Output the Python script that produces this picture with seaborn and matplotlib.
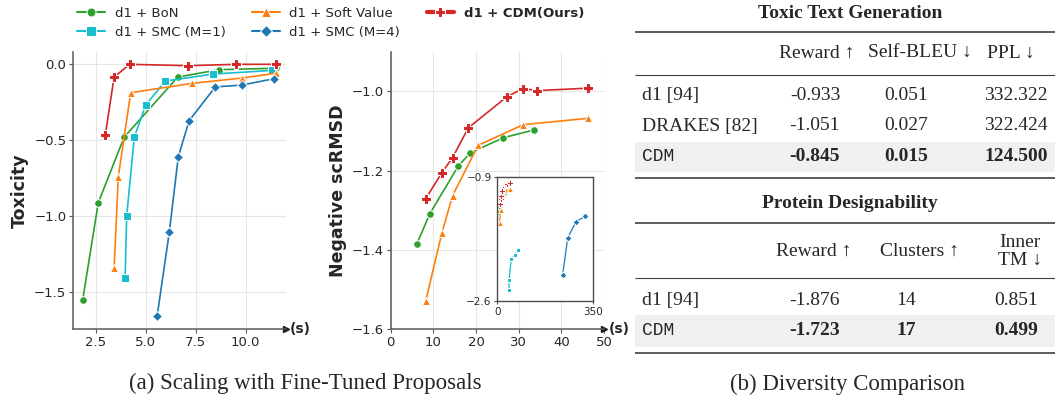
import matplotlib

matplotlib.use("Agg")
import matplotlib.pyplot as plt
import numpy as np
import pandas as pd
import seaborn as sns
from matplotlib.lines import Line2D
from matplotlib.patches import Rectangle

# ---- toxicity task (left panel) ----
tox_bon_x = [1.85, 2.63, 3.92, 6.6, 8.68, 11.5]
tox_bon_y = [-1.549, -0.91, -0.48, -0.084, -0.035, -0.026]
tox_smc1_x = [3.97, 4.05, 4.43, 5.0, 5.98, 8.37, 11.33]
tox_smc1_y = [-1.404, -0.996, -0.48, -0.268, -0.11, -0.064, -0.04]
tox_soft_x = [3.42, 3.63, 4.25, 7.33, 9.83, 11.5]
tox_soft_y = [-1.34, -0.74, -0.187, -0.125, -0.09, -0.059]
tox_smc4_x = [5.57, 6.18, 6.63, 7.17, 8.48, 9.83, 11.4]
tox_smc4_y = [-1.658, -1.105, -0.608, -0.371, -0.149, -0.136, -0.095]
tox_cdm_x = [2.98, 3.42, 4.2, 7.13, 9.5, 11.5]
tox_cdm_y = [-0.465, -0.084, 0.0, -0.009, 0.0, 0.0]

# ---- protein task (middle panel + inset) ----
pro_bon_x = [6.16, 9.2, 15.8, 18.66, 26.4, 33.7]
pro_bon_y = [-1.384, -1.308, -1.189, -1.155, -1.117, -1.097]
pro_soft_x = [8.2, 12.0, 14.5, 20.5, 31.1, 46.2]
pro_soft_y = [-1.529, -1.357, -1.263, -1.136, -1.084, -1.068]
pro_cdm_x = [8.2, 12.0, 14.5, 18.2, 27.3, 31.1, 34.4, 46.2]
pro_cdm_y = [-1.271, -1.205, -1.167, -1.092, -1.013, -0.993, -0.998, -0.992]
pro_smc1_x = [42.8, 42.8, 51.0, 63.6, 75.7]
pro_smc1_y = [-2.446, -2.31, -2.027, -1.964, -1.896]
pro_smc4_x = [239, 257.5, 288, 321]
pro_smc4_y = [-2.237, -1.736, -1.513, -1.441]

# ---- tables ----
tox_cols = ["Reward \u2191", "Self-BLEU \u2193", "PPL \u2193"]
tox_rows = ["d1 [94]", "DRAKES [82]", "CDM"]
tox_vals = [["-0.933", "0.051", "332.322"],
            ["-1.051", "0.027", "322.424"],
            ["-0.845", "0.015", "124.500"]]
pro_cols = ["Reward \u2191", "Clusters \u2191", "Inner\nTM \u2193"]
pro_rows = ["d1 [94]", "CDM"]
pro_vals = [["-1.876", "14", "0.851"],
            ["-1.723", "17", "0.499"]]

styles = {
    "d1 + BoN": dict(color="#2ca02c", marker="o", ms=5.5),
    "d1 + SMC (M=1)": dict(color="#17becf", marker="s", ms=5.5),
    "d1 + Soft Value": dict(color="#ff7f0e", marker="^", ms=6),
    "d1 + SMC (M=4)": dict(color="#1f77b4", marker="D", ms=5.5),
    "d1 + CDM(Ours)": dict(color="#d62728", marker="P", ms=6.5),
}

sns.set_theme(style="whitegrid")
plt.rcParams["font.family"] = ["DejaVu Sans"]

W, H = 1055, 398
fig = plt.figure(figsize=(W / 100, H / 100), dpi=100)


def px_box(left, top, right, bottom):
    return [left / W, 1 - bottom / H, (right - left) / W, (bottom - top) / H]


def draw(ax, x, y, name, scale=1.0, lw=1.2):
    st = styles[name]
    sns.lineplot(x=x, y=y, ax=ax, color=st["color"], marker=st["marker"],
                 markersize=st["ms"] * scale, linewidth=lw, estimator=None,
                 sort=False, legend=False)


def style_axis(ax, ylabel, pad):
    for s in ["top", "right"]:
        ax.spines[s].set_visible(False)
    for s in ["left", "bottom"]:
        ax.spines[s].set_color("0.35")
        ax.spines[s].set_linewidth(1.1)
    ax.grid(color="0.9", linewidth=0.8)
    ax.tick_params(axis="both", labelsize=9.5, length=3, width=0.8,
                   color="0.35", pad=2, left=True, bottom=True)
    ax.set_xlabel("")
    ax.set_ylabel(ylabel, fontsize=12.5, fontweight="bold", labelpad=pad)
    ax.plot(1, 0, ">", color="0.1", markersize=5, transform=ax.transAxes,
            clip_on=False)
    ax.text(1.02, 0, "(s)", transform=ax.transAxes, ha="left", va="center",
            fontsize=10, fontweight="bold")


# left panel
ax1 = fig.add_axes(px_box(73.3, 51.7, 285.7, 329.3))
draw(ax1, tox_bon_x, tox_bon_y, "d1 + BoN")
draw(ax1, tox_smc1_x, tox_smc1_y, "d1 + SMC (M=1)")
draw(ax1, tox_soft_x, tox_soft_y, "d1 + Soft Value")
draw(ax1, tox_smc4_x, tox_smc4_y, "d1 + SMC (M=4)")
draw(ax1, tox_cdm_x, tox_cdm_y, "d1 + CDM(Ours)")
ax1.set_xlim(1.38, 12.0)
ax1.set_ylim(-1.743, 0.083)
ax1.set_xticks([2.5, 5.0, 7.5, 10.0])
ax1.set_yticks([0.0, -0.5, -1.0, -1.5])
style_axis(ax1, "Toxicity", 4)

# middle panel
ax2 = fig.add_axes(px_box(390.7, 51.7, 604, 329.3))
draw(ax2, pro_bon_x, pro_bon_y, "d1 + BoN")
draw(ax2, pro_soft_x, pro_soft_y, "d1 + Soft Value")
draw(ax2, pro_cdm_x, pro_cdm_y, "d1 + CDM(Ours)")
ax2.set_xlim(0, 50)
ax2.set_ylim(-1.6, -0.9)
ax2.set_xticks([0, 10, 20, 30, 40, 50])
ax2.set_yticks([-1.0, -1.2, -1.4, -1.6])
style_axis(ax2, "Negative scRMSD", 3)

# inset
axi = fig.add_axes(px_box(497.3, 176.7, 593, 301.3))
draw(axi, pro_bon_x, pro_bon_y, "d1 + BoN", 0.65, 0.9)
draw(axi, pro_soft_x, pro_soft_y, "d1 + Soft Value", 0.65, 0.9)
draw(axi, pro_cdm_x, pro_cdm_y, "d1 + CDM(Ours)", 0.65, 0.9)
draw(axi, pro_smc1_x, pro_smc1_y, "d1 + SMC (M=1)", 0.65, 0.9)
draw(axi, pro_smc4_x, pro_smc4_y, "d1 + SMC (M=4)", 0.65, 0.9)
axi.set_xlim(0, 350)
axi.set_ylim(-2.6, -0.9)
axi.set_xticks([0, 350])
axi.set_yticks([-0.9, -2.6])
axi.grid(False)
axi.set_facecolor("white")
for s in axi.spines.values():
    s.set_color("0.3")
    s.set_linewidth(1.0)
axi.tick_params(labelsize=7.5, length=2.5, width=0.8, color="0.3", pad=1.5,
                left=True, bottom=True)
axi.set_xlabel("")
axi.set_ylabel("")

# legend
handles = []
for name, st in styles.items():
    lw = 3 if "CDM" in name else 1.5
    handles.append(Line2D([], [], color=st["color"], marker=st["marker"],
                          markersize=st["ms"] + 1, linewidth=lw, mec="w",
                          mew=0.75, label=name))
leg = fig.legend(handles=handles, ncol=3, loc="upper left",
                 bbox_to_anchor=(77 / W, 1 - 7 / H), frameon=False,
                 fontsize=9.5, handlelength=2.1, handletextpad=0.75,
                 columnspacing=2.0, labelspacing=0.45, borderpad=0,
                 borderaxespad=0)
for t in leg.get_texts():
    if "CDM" in t.get_text():
        t.set_fontweight("bold")

# tables drawn on a pixel-coordinate overlay
tab = fig.add_axes([0, 0, 1, 1], zorder=-1)
tab.set_xlim(0, W)
tab.set_ylim(H, 0)
tab.axis("off")

serif = ["Liberation Serif", "DejaVu Serif"]
mono = ["Liberation Mono", "DejaVu Sans Mono"]
rule_c = "0.25"
x0, x1 = 635, 1055
col_x = [815, 906, 1016]
head_x = [817, 920, 1011]


def rule(y, lw):
    tab.plot([x0, x1], [y, y], color=rule_c, linewidth=lw,
             solid_capstyle="butt")


def table(title, title_y, top, mid, bottom, head_y, cols, hx, rows, row_y,
          vals, band):
    tab.text((x0 + x1) / 2 + 5, title_y, title, ha="center", va="center",
             family=serif, fontsize=14, fontweight="bold")
    rule(top, 1.2)
    rule(mid, 0.8)
    rule(bottom, 1.2)
    tab.add_patch(Rectangle((x0, band[0]), x1 - x0, band[1] - band[0],
                            color="#f0f0f0", zorder=0, linewidth=0))
    for c, x, hy in zip(cols, hx, head_y):
        tab.text(x, hy, c, ha="center", va="center", family=serif,
                 fontsize=14, linespacing=1.05)
    for i, (r, y) in enumerate(zip(rows, row_y)):
        best = r == "CDM"
        tab.text(642, y, r, ha="left", va="center",
                 family=mono if best else serif, fontsize=13 if best else 14)
        for v, x in zip(vals[i], col_x):
            tab.text(x, y, v, ha="center", va="center", family=serif,
                     fontsize=14, fontweight="bold" if best else "normal")


table("Toxic Text Generation", 13, 31.7, 74.5, 178.3, [53.5] * 3, tox_cols,
      head_x, tox_rows, [95.5, 126, 156.5], tox_vals, (141.5, 171.7))
table("Protein Designability", 204, 223, 278, 352.5, [251, 251, 251],
      pro_cols, [814, 919, 1020], pro_rows, [300.5, 330.5], pro_vals,
      (315, 347))

# captions
fig.text(305 / W, 1 - 383 / H, "(a) Scaling with Fine-Tuned Proposals",
         ha="center", va="center", family=serif, fontsize=16.5)
fig.text(847 / W, 1 - 384 / H, "(b) Diversity Comparison",
         ha="center", va="center", family=serif, fontsize=16.5)

fig.savefig("out.png", dpi=100)
